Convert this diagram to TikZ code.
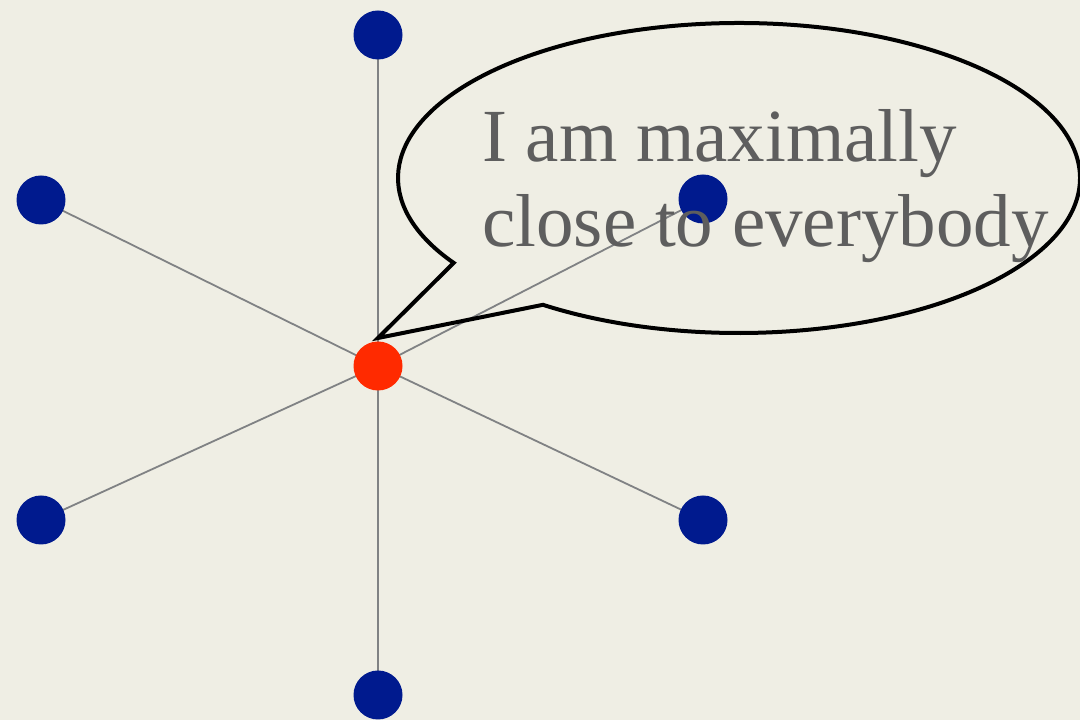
\documentclass[tikz,border=0pt]{standalone}
\usepackage{fontspec}
\setmainfont{Liberation Serif}
\usetikzlibrary{calc}
\definecolor{bg}{HTML}{EFEEE4}
\definecolor{dotblue}{HTML}{001A8E}
\definecolor{dotred}{HTML}{FF2A00}
\definecolor{edgegray}{HTML}{808284}
\definecolor{txtgray}{HTML}{5E5E5E}
\begin{document}
\begin{tikzpicture}[x=1pt,y=1pt,
  dot/.style={circle,inner sep=0pt,minimum size=49pt,fill=dotblue},
  center/.style={dot,fill=dotred},
  edge/.style={draw=edgegray,line width=1.8pt},
  bubble/.style={draw=black,line width=4pt,line join=miter},
  say/.style={text=txtgray,anchor=base west,inner sep=0pt,font=\fontsize{75}{85}\selectfont}]
\fill[bg] (0,0) rectangle (1080,720);
\useasboundingbox (0,0) rectangle (1080,720);
\coordinate (pc) at (378,354);
\coordinate (ptop) at (378,685);
\coordinate (pul) at (41,520);
\coordinate (pur) at (703,521);
\coordinate (pll) at (41,200);
\coordinate (plr) at (703,200);
\coordinate (pbot) at (378,25);
\foreach \n in {top,ul,ur,ll,lr,bot}{\draw[edge] (pc) -- (p\n);}
\foreach \n in {top,ul,ur,ll,lr,bot}{\node[dot] (n\n) at (p\n) {};}
\node[center] (nc) at (pc) {};
\coordinate (ec) at (739,542);
\coordinate (tip) at (378,382);
\draw[bubble] ($(ec)+(234.9:341pt and 155pt)$) arc[start angle=234.9,end angle=573.2,x radius=341pt,y radius=155pt] -- (tip) -- cycle;
\node[say] (l1) at (482,558) {I am maximally};
\node[say] (l2) at (482,473) {close to everybody};
\end{tikzpicture}
\end{document}
